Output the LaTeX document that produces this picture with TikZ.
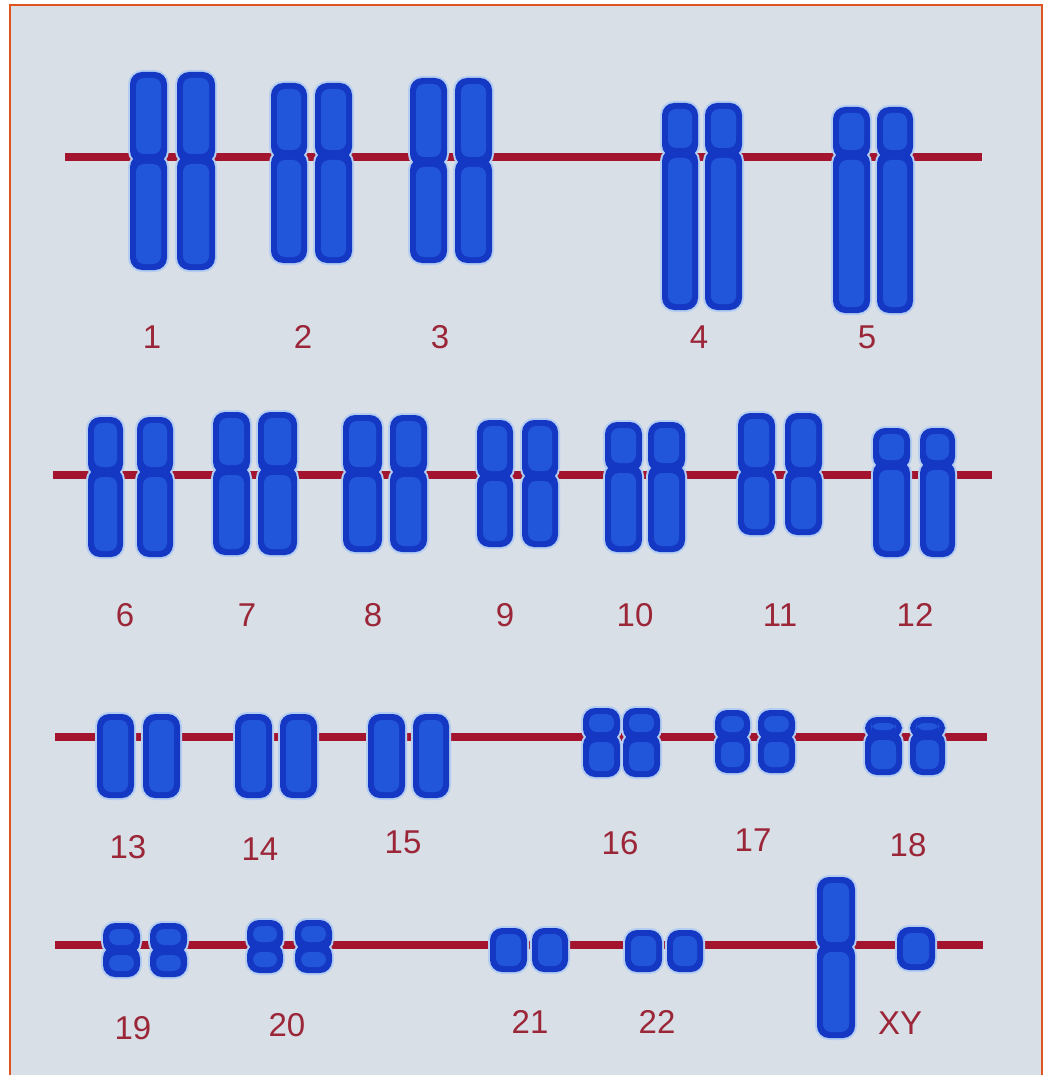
\documentclass[tikz,border=0pt]{standalone}
\usepackage{fontspec}
\setmainfont{Liberation Sans}
\definecolor{panel}{HTML}{D8DFE7}
\definecolor{frameline}{HTML}{E0541E}
\definecolor{axisred}{HTML}{A3152F}
\definecolor{chrfill}{HTML}{2156DA}
\definecolor{chredge}{HTML}{1538C4}
\definecolor{chrglow}{HTML}{B4CDF0}
\definecolor{labelred}{HTML}{9B2638}
\tikzset{
  axis/.style={draw=axisred, line width=8pt},
  glow/.style={draw=chrglow, line width=4pt, rounded corners=12pt},
  armout/.style={fill=chredge, rounded corners=12pt},
  armin/.style={fill=chrfill, rounded corners=8pt},
  num/.style={text=labelred, font=\fontsize{33}{33}\selectfont, inner sep=0pt}
}
% chromatid with centromere: left, right, top, centromere, bottom
\newcommand\chromatid[5]{%
  \draw[glow] (#1,#3) rectangle (#2,{#4+4});
  \draw[glow] (#1,{#4-4}) rectangle (#2,#5);
  \fill[armout] (#1,#3) rectangle (#2,{#4+4});
  \fill[armout] (#1,{#4-4}) rectangle (#2,#5);
  \fill[armin] ({#1+6},{#3+6}) rectangle ({#2-6},{#4-5});
  \fill[armin] ({#1+6},{#4+5}) rectangle ({#2-6},{#5-6});
}
% chromatid drawn as one block: left, right, top, bottom
\newcommand\chromblock[4]{%
  \draw[glow] (#1,#3) rectangle (#2,#4);
  \fill[armout] (#1,#3) rectangle (#2,#4);
  \fill[armin] ({#1+6},{#3+6}) rectangle ({#2-6},{#4-6});
}
\begin{document}
\begin{tikzpicture}[x=1pt,y=-1pt]
\useasboundingbox (0,0) rectangle (1047,1075);
\fill[white] (0,0) rectangle (1047,1075);
\fill[panel] (10,5) rectangle (1042,1075);
\draw[frameline, line width=2.5pt] (10,1075) -- (10,5) -- (1042,5) -- (1042,1075);

% row axes
\coordinate (r1a) at (65,157);  \coordinate (r1b) at (982,157);
\coordinate (r2a) at (53,475);  \coordinate (r2b) at (992,475);
\coordinate (r3a) at (55,737);  \coordinate (r3b) at (987,737);
\coordinate (r4a) at (55,945);  \coordinate (r4b) at (983,945);
\draw[axis] (r1a) -- (r1b);
\draw[axis] (r2a) -- (r2b);
\draw[axis] (r3a) -- (r3b);
\draw[axis] (r4a) -- (r4b);

% row 1
\chromatid{130}{167}{72}{159}{270}\chromatid{177}{215}{72}{159}{270}
\chromatid{271}{307}{83}{155}{263}\chromatid{315}{352}{83}{155}{263}
\chromatid{410}{447}{78}{162}{263}\chromatid{455}{492}{78}{162}{263}
\chromatid{662}{698}{103}{153}{310}\chromatid{705}{742}{103}{153}{310}
\chromatid{833}{870}{107}{155}{313}\chromatid{877}{913}{107}{155}{313}
\node[num] (n1) at (152,337) {1};
\node[num] (n2) at (303,337) {2};
\node[num] (n3) at (440,337) {3};
\node[num] (n4) at (699,337) {4};
\node[num] (n5) at (867,337) {5};

% row 2
\chromatid{88}{123}{417}{472}{557}\chromatid{137}{173}{417}{472}{557}
\chromatid{213}{250}{412}{470}{555}\chromatid{258}{297}{412}{470}{555}
\chromatid{343}{382}{415}{472}{552}\chromatid{390}{427}{415}{472}{552}
\chromatid{477}{513}{420}{476}{547}\chromatid{522}{558}{420}{476}{547}
\chromatid{605}{642}{422}{468}{552}\chromatid{648}{685}{422}{468}{552}
\chromatid{738}{775}{413}{472}{535}\chromatid{785}{822}{413}{472}{535}
\chromatid{873}{910}{428}{465}{557}\chromatid{920}{955}{428}{465}{557}
\node[num] (n6) at (125,615) {6};
\node[num] (n7) at (247,615) {7};
\node[num] (n8) at (373,615) {8};
\node[num] (n9) at (505,615) {9};
\node[num] (n10) at (635,615) {10};
\node[num] (n11) at (780,615) {11};
\node[num] (n12) at (915,615) {12};

% row 3
\chromblock{97}{134}{714}{798}\chromblock{143}{180}{714}{798}
\chromblock{235}{272}{714}{798}\chromblock{280}{317}{714}{798}
\chromblock{368}{405}{714}{798}\chromblock{413}{449}{714}{798}
\chromatid{583}{620}{708}{737}{777}\chromatid{623}{660}{708}{737}{777}
\chromatid{715}{750}{710}{737}{773}\chromatid{758}{795}{710}{737}{773}
\chromatid{865}{902}{717}{735}{775}\chromatid{910}{945}{717}{735}{775}
\node[num] (n13) at (128,847) {13};
\node[num] (n14) at (260,849) {14};
\node[num] (n15) at (403,842) {15};
\node[num] (n16) at (620,843) {16};
\node[num] (n17) at (753,840) {17};
\node[num] (n18) at (908,845) {18};

% row 4
\chromatid{103}{140}{923}{950}{977}\chromatid{150}{187}{923}{950}{977}
\chromatid{247}{283}{920}{947}{973}\chromatid{295}{332}{920}{947}{973}
\chromblock{490}{527}{928}{972}\chromblock{532}{568}{928}{972}
\chromblock{625}{662}{930}{972}\chromblock{667}{703}{930}{972}
\chromatid{817}{855}{877}{947}{1038}
\chromblock{897}{935}{927}{970}
\node[num] (n19) at (133,1028) {19};
\node[num] (n20) at (287,1025) {20};
\node[num] (n21) at (530,1022) {21};
\node[num] (n22) at (657,1022) {22};
\node[num] (nxy) at (900,1023) {XY};
\end{tikzpicture}
\end{document}
